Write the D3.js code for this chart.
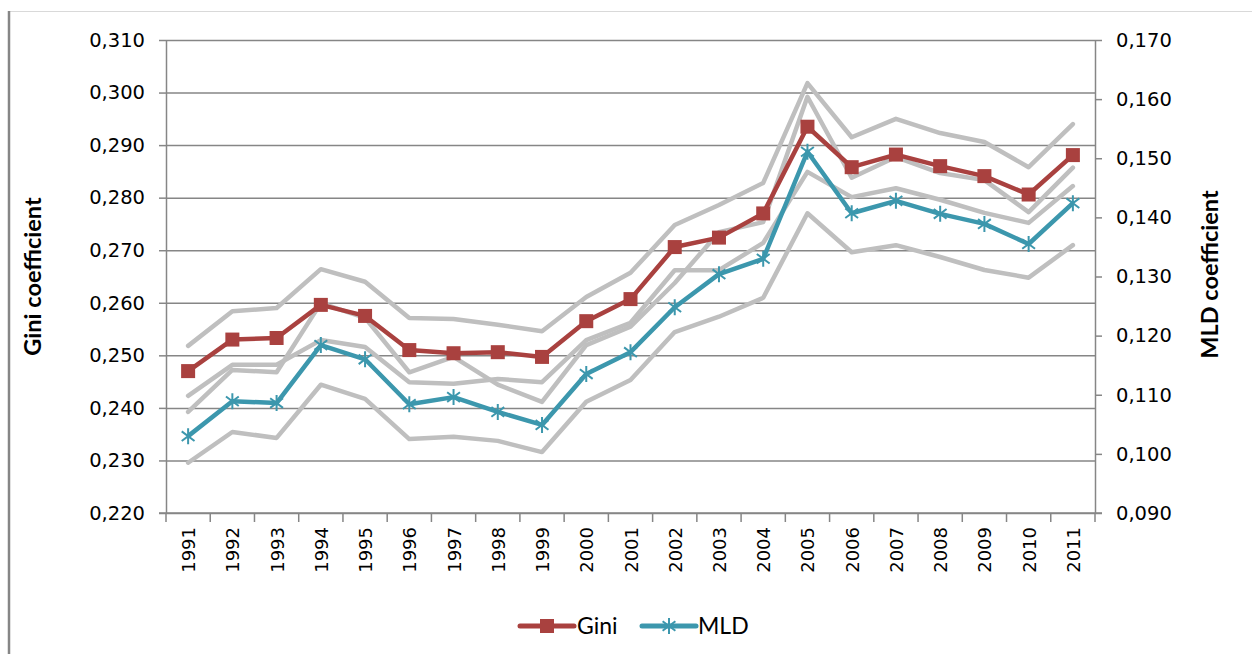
<!DOCTYPE html>
<html>
<head>
<meta charset="utf-8">
<script src="https://cdn.jsdelivr.net/npm/d3@7"></script>
<style>
  body { margin: 0; background: #fff; }
  svg { display: block; }
</style>
</head>
<body>
<svg width="1252" height="654"></svg>
<script>
const years = ['1991','1992','1993','1994','1995','1996','1997','1998','1999','2000',
  '2001','2002','2003','2004','2005','2006','2007','2008','2009','2010','2011'];

// Gini (left axis) with its band
const gini      = [0.2470,0.2530,0.2533,0.2596,0.2575,0.2510,0.2504,0.2506,0.2497,0.2565,
  0.2607,0.2706,0.2724,0.2770,0.2935,0.2858,0.2882,0.2860,0.2841,0.2806,0.2881];
const giniUpper = [0.2518,0.2584,0.2590,0.2664,0.2640,0.2571,0.2569,0.2558,0.2546,0.2611,
  0.2657,0.2748,0.2786,0.2828,0.3018,0.2915,0.2950,0.2923,0.2906,0.2858,0.2940];
const giniLower = [0.2423,0.2482,0.2482,0.2529,0.2516,0.2449,0.2446,0.2455,0.2449,0.2529,
  0.2562,0.2662,0.2662,0.2714,0.2849,0.2801,0.2818,0.2796,0.2771,0.2752,0.2822];

// MLD (right axis) with its band
const mld       = [0.1030,0.1089,0.1086,0.1184,0.1160,0.1084,0.1096,0.1071,0.1049,0.1135,
  0.1172,0.1248,0.1304,0.1330,0.1511,0.1407,0.1428,0.1406,0.1389,0.1355,0.1424];
const mldUpper  = [0.1071,0.1142,0.1138,0.1255,0.1230,0.1138,0.1164,0.1117,0.1088,0.1184,
  0.1215,0.1289,0.1375,0.1392,0.1604,0.1467,0.1502,0.1475,0.1463,0.1409,0.1484];
const mldLower  = [0.0985,0.1037,0.1027,0.1117,0.1093,0.1025,0.1029,0.1022,0.1003,0.1088,
  0.1125,0.1206,0.1232,0.1264,0.1407,0.1341,0.1353,0.1333,0.1311,0.1298,0.1353];

const leftTicks  = [0.22,0.23,0.24,0.25,0.26,0.27,0.28,0.29,0.30,0.31];
const rightTicks = [0.09,0.10,0.11,0.12,0.13,0.14,0.15,0.16,0.17];

const svg = d3.select('svg');
const plotLeft = 166, plotRight = 1095, plotTop = 40, plotBottom = 513;
const axisColor = '#868686';
const giniColor = '#A9413F';
const mldColor = '#3C97AD';
const bandColor = '#BFBFBF';
const tickFont = '"DejaVu Sans", Verdana, sans-serif';
const labelFont = 'Lato, "Open Sans", sans-serif';
const fmt = d => d3.format('.3f')(d).replace('.', ',');

// outer frame
svg.append('line').attr('x1', 9).attr('x2', 1252).attr('y1', 11.5).attr('y2', 11.5)
  .attr('stroke', '#D9D9D9').attr('stroke-width', 1.2);
svg.append('line').attr('x1', 9).attr('x2', 9).attr('y1', 11).attr('y2', 654)
  .attr('stroke', axisColor).attr('stroke-width', 2.5);

const x = d3.scaleBand().domain(years).range([plotLeft, plotRight]);
const yL = d3.scaleLinear().domain([0.22, 0.31]).range([plotBottom, plotTop]);
const yR = d3.scaleLinear().domain([0.09, 0.17]).range([plotBottom, plotTop]);
const cx = d => x(d) + x.bandwidth() / 2;

// gridlines
svg.append('g')
  .attr('transform', `translate(${plotLeft},0)`)
  .call(d3.axisLeft(yL).tickValues(leftTicks).tickSize(-(plotRight - plotLeft)).tickFormat(''))
  .call(g => g.select('.domain').remove())
  .call(g => g.selectAll('line').attr('stroke', axisColor).attr('stroke-width', 1.5));

// left axis
svg.append('g')
  .attr('transform', `translate(${plotLeft},0)`)
  .call(d3.axisLeft(yL).tickValues(leftTicks).tickSize(7).tickSizeOuter(0).tickPadding(14).tickFormat(fmt))
  .call(g => g.select('.domain').attr('stroke', axisColor).attr('stroke-width', 1.5))
  .call(g => g.selectAll('line').attr('stroke', axisColor).attr('stroke-width', 1.5))
  .call(g => g.selectAll('text').attr('fill', '#000')
    .style('font-family', tickFont).style('font-size', '19.5px'));

// right axis
svg.append('g')
  .attr('transform', `translate(${plotRight},0)`)
  .call(d3.axisRight(yR).tickValues(rightTicks).tickSize(7).tickSizeOuter(0).tickPadding(14).tickFormat(fmt))
  .call(g => g.select('.domain').attr('stroke', axisColor).attr('stroke-width', 1.5))
  .call(g => g.selectAll('line').attr('stroke', axisColor).attr('stroke-width', 1.5))
  .call(g => g.selectAll('text').attr('fill', '#000')
    .style('font-family', tickFont).style('font-size', '19.5px'));

// x axis: ticks at category boundaries
const xAxis = svg.append('g').attr('transform', `translate(0,${plotBottom})`);
xAxis.append('line').attr('x1', plotLeft - 7).attr('x2', plotRight + 7)
  .attr('stroke', axisColor).attr('stroke-width', 1.5);
xAxis.selectAll('line.tick')
  .data(years.concat(['end']))
  .enter().append('line')
  .attr('class', 'tick')
  .attr('x1', d => d === 'end' ? plotRight : x(d))
  .attr('x2', d => d === 'end' ? plotRight : x(d))
  .attr('y1', 0).attr('y2', 9)
  .attr('stroke', axisColor).attr('stroke-width', 1.5);
xAxis.selectAll('text')
  .data(years)
  .enter().append('text')
  .attr('transform', d => `translate(${cx(d) + 7},${14}) rotate(-90)`)
  .attr('text-anchor', 'end')
  .style('font-family', tickFont)
  .style('font-size', '18px')
  .text(d => d);

// axis titles
svg.append('text')
  .attr('transform', `translate(41,${(plotTop + plotBottom) / 2}) rotate(-90)`)
  .attr('text-anchor', 'middle')
  .style('font-family', labelFont)
  .style('font-weight', 'bold').style('font-size', '23.5px')
  .text('Gini coefficient');
svg.append('text')
  .attr('transform', `translate(1218,${(plotTop + plotBottom) / 2 - 2}) rotate(-90)`)
  .attr('text-anchor', 'middle')
  .style('font-family', labelFont)
  .style('font-weight', 'bold').style('font-size', '23.5px')
  .text('MLD coefficient');

// bands
const lineL = d3.line().x((d, i) => cx(years[i])).y(d => yL(d));
const lineR = d3.line().x((d, i) => cx(years[i])).y(d => yR(d));
const bands = [[giniUpper, lineL], [giniLower, lineL], [mldUpper, lineR], [mldLower, lineR]];
bands.forEach(([data, gen]) => {
  svg.append('path').datum(data)
    .attr('d', gen)
    .attr('fill', 'none')
    .attr('stroke', bandColor)
    .attr('stroke-width', 4.5)
    .attr('stroke-linejoin', 'round')
    .attr('stroke-linecap', 'round');
});

// main series
svg.append('path').datum(gini)
  .attr('d', lineL).attr('fill', 'none')
  .attr('stroke', giniColor).attr('stroke-width', 4.5).attr('stroke-linejoin', 'round');
svg.append('path').datum(mld)
  .attr('d', lineR).attr('fill', 'none')
  .attr('stroke', mldColor).attr('stroke-width', 4.5).attr('stroke-linejoin', 'round');

const sq = 14;
svg.append('g').selectAll('rect')
  .data(gini).enter().append('rect')
  .attr('x', (d, i) => cx(years[i]) - sq / 2)
  .attr('y', d => yL(d) - sq / 2)
  .attr('width', sq).attr('height', sq)
  .attr('fill', giniColor);

const star = (g, px, py) => {
  const r = 8;
  g.append('path')
    .attr('d', `M${px - r * 0.8},${py - r * 0.6}L${px + r * 0.8},${py + r * 0.6}` +
      `M${px - r * 0.8},${py + r * 0.6}L${px + r * 0.8},${py - r * 0.6}` +
      `M${px},${py - r}L${px},${py + r}`)
    .attr('stroke', mldColor).attr('stroke-width', 2).attr('fill', 'none');
};
const stars = svg.append('g');
mld.forEach((d, i) => star(stars, cx(years[i]), yR(d)));

// legend
const legY = 626;
const leg = svg.append('g');
leg.append('line').attr('x1', 520).attr('x2', 574).attr('y1', legY).attr('y2', legY)
  .attr('stroke', giniColor).attr('stroke-width', 5).attr('stroke-linecap', 'round');
leg.append('rect').attr('x', 547 - sq / 2).attr('y', legY - sq / 2)
  .attr('width', sq).attr('height', sq).attr('fill', giniColor);
leg.append('text').attr('x', 577).attr('y', legY + 8)
  .style('font-family', labelFont).style('font-size', '23px')
  .text('Gini');
leg.append('line').attr('x1', 642).attr('x2', 696).attr('y1', legY).attr('y2', legY)
  .attr('stroke', mldColor).attr('stroke-width', 5).attr('stroke-linecap', 'round');
star(leg, 669, legY);
leg.append('text').attr('x', 698).attr('y', legY + 8)
  .style('font-family', labelFont).style('font-size', '23px')
  .text('MLD');
</script>
</body>
</html>
